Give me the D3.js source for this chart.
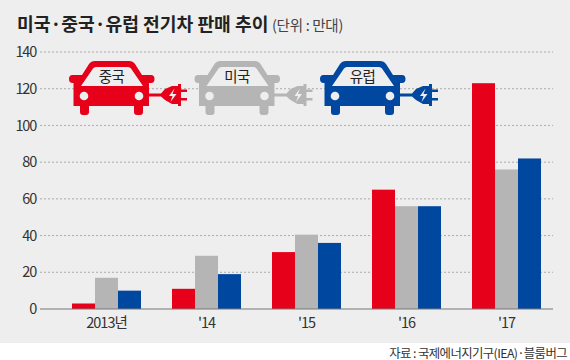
<!DOCTYPE html>
<html><head><meta charset="utf-8"><script src="https://cdnjs.cloudflare.com/ajax/libs/d3/7.8.5/d3.min.js"></script>
<style>html,body{margin:0;padding:0;background:#fff}svg{display:block}text{font-family:"Noto Sans CJK KR","Noto Sans",sans-serif}</style>
</head><body><svg id="c" width="570" height="360"></svg>
<script>
const years = ["2013년", "'14", "'15", "'16", "'17"];
const seriesNames = ["중국", "미국", "유럽"];
const china = [3, 11, 31, 65, 123];
const usa = [17, 29, 40.5, 56, 76];
const europe = [10, 19, 36, 56, 82];
const colors = ["#e60019", "#b5b5b5", "#0047a0"];
const ticks = [0, 20, 40, 60, 80, 100, 120, 140];
const series = [china, usa, europe];

const svg = d3.select("#c");
svg.append("rect").attr("width", 570).attr("height", 343).attr("fill", "#eeeeee");

const y = d3.scaleLinear().domain([0, 140]).range([309, 52]);
const x = d3.scaleBand().domain(years).range([56.5, 556.5]).paddingInner(0.31).paddingOuter(0.155);
const xs = d3.scaleBand().domain(d3.range(3)).range([0, x.bandwidth()]);

svg.append("text").attr("x", 17).attr("y", 31).attr("font-size", 18.2).attr("font-weight", 700).attr("fill", "#222")
  .text("미국·중국·유럽 전기차 판매 추이");
svg.append("text").attr("x", 272).attr("y", 31).attr("font-size", 14.5).attr("fill", "#444").attr("letter-spacing", -0.3).text("(단위 : 만대)");

const yAxis = d3.axisLeft(y).tickValues(ticks).tickSize(0).tickPadding(4);
const gy = svg.append("g").attr("transform", "translate(40,0)").call(yAxis);
gy.select(".domain").remove();
gy.selectAll("text").attr("font-size", 14.5).attr("fill", "#333").attr("letter-spacing", -1.2);
svg.append("g").selectAll("line").data(ticks.filter(d => d > 0)).join("line")
  .attr("x1", 40).attr("x2", 553).attr("y1", d => y(d)).attr("y2", d => y(d))
  .attr("stroke", "#999").attr("stroke-width", 0.8).attr("stroke-dasharray", "2 2");

series.forEach((vals, i) => {
  svg.append("g").selectAll("rect").data(vals).join("rect")
    .attr("x", (d, j) => x(years[j]) + xs(i)).attr("width", xs.bandwidth())
    .attr("y", d => y(d)).attr("height", d => y(0) - y(d)).attr("fill", colors[i]);
});

svg.append("line").attr("x1", 40).attr("x2", 553).attr("y1", y(0)).attr("y2", y(0)).attr("stroke", "#777").attr("stroke-width", 1);

const gx = svg.append("g").attr("transform", `translate(0,${y(0)})`)
  .call(d3.axisBottom(x).tickSize(0).tickPadding(9));
gx.select(".domain").remove();
gx.selectAll("text").attr("font-size", 14.5).attr("fill", "#333").attr("letter-spacing", -1);

svg.append("text").attr("x", 567).attr("y", 357.5).attr("text-anchor", "end").attr("font-size", 12.4).attr("fill", "#333")
  .attr("letter-spacing", -0.6).text("자료 : 국제에너지기구(IEA)·블룸버그");

const carPath = "M3.5 14 L13 14 L20 3 Q22 0 26 0 L60 0 Q64 0 66 3 L73 14 L82 14 Q85.5 14 85.5 18 Q85.5 22 82 22 L80 22 L80 45 L74 45 L74 51 Q74 54 71 54 L68 54 Q65 54 65 51 L65 45 L20 45 L20 51 Q20 54 17 54 L14 54 Q11 54 11 51 L11 45 L4.5 45 L4.5 22 L3.5 22 Q0 22 0 18 Q0 14 3.5 14 Z";
const legend = svg.append("g").selectAll("g").data(seriesNames).join("g")
  .attr("transform", (d, i) => `translate(${69 + i * 125.5},61)`);
legend.append("path").attr("d", carPath).attr("fill", (d, i) => colors[i]);
legend.append("path").attr("d", "M24 7.5 Q25 6 27 6 L59 6 Q61 6 62 7.5 L74 25 L12 25 Z").attr("fill", "#eeeeee");
legend.append("circle").attr("cx", 15).attr("cy", 35).attr("r", 4.3).attr("fill", "#eeeeee");
legend.append("circle").attr("cx", 70).attr("cy", 35).attr("r", 4.3).attr("fill", "#eeeeee");
legend.append("path").attr("d", "M79 32.5 L92 32.5 L96 28 L103 25 L109 25 L109 23 L112 23 L112 28.5 L118 28.5 L118 31 L112 31 L112 37 L118 37 L118 39.5 L112 39.5 L112 45 L109 45 L109 43 L103 43 L96 39 L92 35.5 L79 35.5 Z").attr("fill", (d, i) => colors[i]);
legend.append("path").attr("d", "M105.5 27.5 L100 35 L103.5 35 L101.5 41 L107.5 33 L103.5 33 Z").attr("fill", "#eeeeee");
legend.append("text").attr("x", 42.5).attr("y", 21).attr("text-anchor", "middle").attr("font-size", 14.5).attr("fill", "#222").attr("letter-spacing", -0.6).text(d => d);
</script></body></html>
